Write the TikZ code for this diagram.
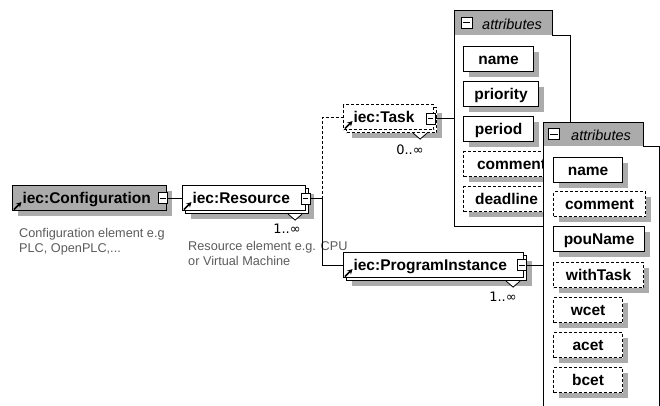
\documentclass[tikz,border=0pt]{standalone}
\usepackage{fontspec}
\setmainfont{Liberation Sans}
\newfontfamily\cardfont{DejaVu Sans}
\usetikzlibrary{shadows,calc,arrows.meta}
\definecolor{boxgray}{HTML}{ABABAB}
\definecolor{notegray}{HTML}{5C5C5C}
\begin{document}
\begin{tikzpicture}[x=1pt,y=-1pt,
  outline/.style={line width=1.1pt},
  wire/.style={line width=0.9pt},
  dashline/.style={dash pattern=on 3pt off 2pt},
  dropshade/.style={general shadow={fill=boxgray, shadow xshift=5pt, shadow yshift=-5pt}},
  stackshade/.style={general shadow={fill=boxgray, shadow xshift=8pt, shadow yshift=-8pt},
    general shadow={fill=white, draw, line width=1.1pt, #1, shadow xshift=3pt, shadow yshift=-3pt}},
  stackshade/.default=solid,
  boldtext/.style={font=\fontsize{15.5}{18}\selectfont\bfseries},
  elembox/.style={draw, outline, fill=white, anchor=north west, minimum height=25pt,
    inner xsep=10pt, inner ysep=0pt, align=left, boldtext, text height=12pt, text depth=2pt},
  attrbox/.style={draw, outline, fill=white, anchor=north west, minimum height=25pt,
    inner sep=0pt, boldtext, text height=12.5pt, text depth=1.5pt, dropshade},
  optattr/.style={attrbox, dashline},
  minusbox/.style={draw, line width=0.9pt, fill=white, minimum width=9pt, minimum height=11pt,
    inner sep=0pt, path picture={\draw[line width=0.9pt]
      ([xshift=1.8pt]path picture bounding box.west) -- ([xshift=-1.8pt]path picture bounding box.east);}},
  headtext/.style={anchor=base west, inner sep=0pt, font=\fontsize{14.5}{16}\selectfont\itshape},
  note/.style={anchor=base west, inner sep=0pt, text=notegray, font=\fontsize{12.7}{15}\selectfont},
  card/.style={inner sep=0pt, font=\cardfont\fontsize{13}{14}\selectfont},
  refarrow/.style={line width=1.6pt, -{Stealth[length=5pt,width=5.5pt]}},
  cardmark/.style={fill=white, line width=0.8pt}
]
\useasboundingbox (0,0) rectangle (660,405);
\fill[white] (0,0) rectangle (660,405);
\clip (0,0) rectangle (660,405);

% ---- element boxes ----
\node[elembox, fill=boxgray, dropshade, text width=134pt] (cfg) at (12,185) {iec:Configuration};
\node[elembox, stackshade, text width=103pt] (res) at (182,185) {iec:Resource};
\node[elembox, dashline, stackshade=dashline, text width=70pt] (task) at (343,104) {iec:Task};
\node[elembox, stackshade, text width=160pt] (pi) at (343,252) {iec:ProgramInstance};

% reference arrows in the lower left corners
\foreach \n in {cfg,res,task,pi}
  \draw[refarrow] ($(\n.south west)+(2,-1.5)$) -- ++(7.5,-7.5);

% cardinality marks
\draw[cardmark] ($(res.south east)+(-18,3)$) -- ++(7,6) -- ++(7,-6);
\draw[cardmark] ($(task.south east)+(-21,3)$) -- ++(7,6) -- ++(7,-6);
\draw[cardmark] ($(pi.south east)+(-18,3)$) -- ++(7,6) -- ++(7,-6);
\node[card] (rescard) at (287,229) {1..∞};
\node[card] (taskcard) at (410,150) {0..∞};
\node[card] (picard) at (503,297) {1..∞};

% collapse buttons
\node[minusbox] (cfgm) at (163,198) {};
\node[minusbox] (resm) at (305.5,198.5) {};
\node[minusbox] (taskm) at (430.5,118.5) {};
\node[minusbox] (pim) at (522,265) {};

% annotations
\node[note] (cfgnote1) at (19,237) {Configuration element e.g};
\node[note] (cfgnote2) at (19,252) {PLC, OpenPLC,...};
\node[note] (resnote1) at (188,250) {Resource element e.g. CPU};
\node[note] (resnote2) at (188,265) {or Virtual Machine};

% ---- connectors ----
\coordinate (jn) at (322,198.5);
\draw[wire] (cfgm.east) -- (cfgm.east -| res.west);
\draw[wire] (resm.east) -- (jn);
\draw[wire, dashline] (jn) |- (task.west);
\draw[wire] (jn) |- (pi.west);

% ---- attribute panel of iec:Task ----
\fill[white] (454,10) -- (552,10) -- (552,35) -- (570,35) -- (570,226) -- (454,226) -- cycle;
\fill[boxgray] (454,10) rectangle (552,35);
\draw[line width=1pt] (454,226) -- (454,10) -- (552,10) -- (552,35) -- (570,35) -- (570,226) -- cycle;
\node[minusbox, minimum width=11pt] (a1m) at (466.5,22.5) {};
\node[headtext] (a1t) at (482,29) {attributes};
\coordinate (a1in) at (454,118.5);
\draw[wire] (taskm.east) -- (a1in);

\node[attrbox, minimum width=70pt] (a1name) at (463,46) {name};
\node[attrbox, minimum width=75pt] (a1prio) at (463,81) {priority};
\node[attrbox, minimum width=70pt] (a1per) at (463,116) {period};
\node[optattr, minimum width=96pt] (a1com) at (463,151) {comment};
\node[optattr, minimum width=86pt] (a1dead) at (463,186) {deadline};

% ---- attribute panel of iec:ProgramInstance ----
\fill[white] (543,410) -- (543,122) -- (643,122) -- (643,146) -- (659,146) -- (659,410) -- cycle;
\fill[boxgray] (543,122) rectangle (643,146);
\draw[line width=1pt] (543,410) -- (543,122) -- (643,122) -- (643,146) -- (659,146) -- (659,410);
\node[minusbox, minimum width=11pt] (a2m) at (554,134) {};
\node[headtext] (a2t) at (571,140) {attributes};
\coordinate (a2in) at (543,265);
\draw[wire] (pim.east) -- (a2in);

\node[attrbox, minimum width=69pt] (a2name) at (553,157) {name};
\node[optattr, minimum width=92pt] (a2com) at (553,191) {comment};
\node[attrbox, minimum width=91pt] (a2pou) at (553,226) {pouName};
\node[optattr, minimum width=90pt] (a2with) at (553,262) {withTask};
\node[optattr, minimum width=69pt] (a2wcet) at (553,297) {wcet};
\node[optattr, minimum width=69pt] (a2acet) at (553,332) {acet};
\node[optattr, minimum width=69pt] (a2bcet) at (553,367) {bcet};
\end{tikzpicture}
\end{document}
